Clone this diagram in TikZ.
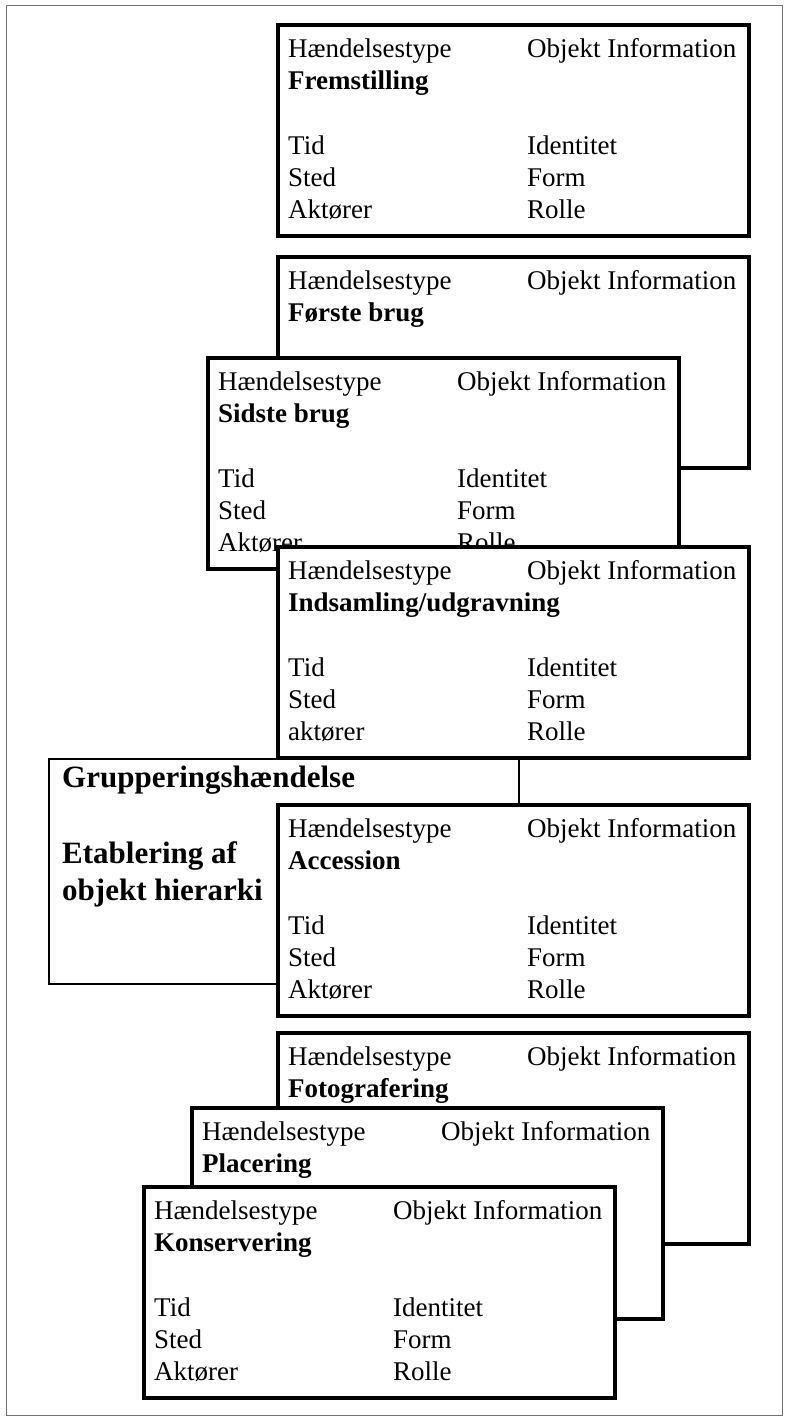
\documentclass[tikz,border=0pt]{standalone}
\usepackage{fontspec}
\setmainfont{Liberation Serif}
\usetikzlibrary{positioning}

\begin{document}
\begin{tikzpicture}[x=1pt, y=1pt,
      card/.style={draw, line width=3.8pt, fill=white, anchor=north west,
        minimum width=471pt, minimum height=211pt, inner sep=0pt, outer sep=0pt},
      groupbox/.style={draw, line width=1.2pt, fill=white, anchor=north west,
        minimum width=470pt, minimum height=225pt, inner sep=0pt, outer sep=0pt},
      cols/.style={inner sep=0pt, font=\fontsize{27}{32}\selectfont},
      big/.style={align=left, inner sep=0pt, font=\fontsize{31}{37}\selectfont\bfseries}]
    \useasboundingbox (0,0) rectangle (787,-1420);
    \draw[black!55, line width=0.8pt] (6,-5) rectangle (782,-1415);
    % upper stack
    \node[card] (fremst) at (278,-25) {};
    \node[cols, below right=10pt and 10pt of fremst.north west] (fremst-t) {\begin{tabular}{@{}p{239pt}@{}l@{}}
      Hændelsestype & Objekt Information\\ \textbf{Fremstilling} & \\[33pt]
      Tid & Identitet\\ Sted & Form\\ Aktører & Rolle\end{tabular}};
    \node[card] (forste) at (278,-257) {};
    \node[cols, below right=10pt and 10pt of forste.north west] (forste-t) {\begin{tabular}{@{}p{239pt}@{}l@{}}
      Hændelsestype & Objekt Information\\ \textbf{Første brug} & \end{tabular}};
    \node[card] (sidste) at (208,-358) {};
    \node[cols, below right=10pt and 10pt of sidste.north west] (sidste-t) {\begin{tabular}{@{}p{239pt}@{}l@{}}
      Hændelsestype & Objekt Information\\ \textbf{Sidste brug} & \\[33pt]
      Tid & Identitet\\ Sted & Form\\ Aktører & Rolle\end{tabular}};
    \node[card] (indsaml) at (278,-547) {};
    \node[cols, below right=10pt and 10pt of indsaml.north west] (indsaml-t) {\begin{tabular}{@{}p{239pt}@{}l@{}}
      Hændelsestype & Objekt Information\\ \textbf{Indsamling/udgravning} & \\[33pt]
      Tid & Identitet\\ Sted & Form\\ aktører & Rolle\end{tabular}};
    % grouping event
    \node[groupbox] (grp) at (49,-759) {};
    \node[big, below right=7pt and 13pt of grp.north west] (grp-t) {Grupperingshændelse\\[39pt]Etablering af\\objekt hierarki};
    \node[card] (access) at (278,-805) {};
    \node[cols, below right=10pt and 10pt of access.north west] (access-t) {\begin{tabular}{@{}p{239pt}@{}l@{}}
      Hændelsestype & Objekt Information\\ \textbf{Accession} & \\[33pt]
      Tid & Identitet\\ Sted & Form\\ Aktører & Rolle\end{tabular}};
    % lower stack
    \node[card] (foto) at (278,-1033) {};
    \node[cols, below right=10pt and 10pt of foto.north west] (foto-t) {\begin{tabular}{@{}p{239pt}@{}l@{}}
      Hændelsestype & Objekt Information\\ \textbf{Fotografering} & \end{tabular}};
    \node[card] (placer) at (192,-1108) {};
    \node[cols, below right=10pt and 10pt of placer.north west] (placer-t) {\begin{tabular}{@{}p{239pt}@{}l@{}}
      Hændelsestype & Objekt Information\\ \textbf{Placering} & \end{tabular}};
    \node[card] (konserv) at (144,-1187) {};
    \node[cols, below right=10pt and 10pt of konserv.north west] (konserv-t) {\begin{tabular}{@{}p{239pt}@{}l@{}}
      Hændelsestype & Objekt Information\\ \textbf{Konservering} & \\[33pt]
      Tid & Identitet\\ Sted & Form\\ Aktører & Rolle\end{tabular}};
  \end{tikzpicture}
\end{document}
